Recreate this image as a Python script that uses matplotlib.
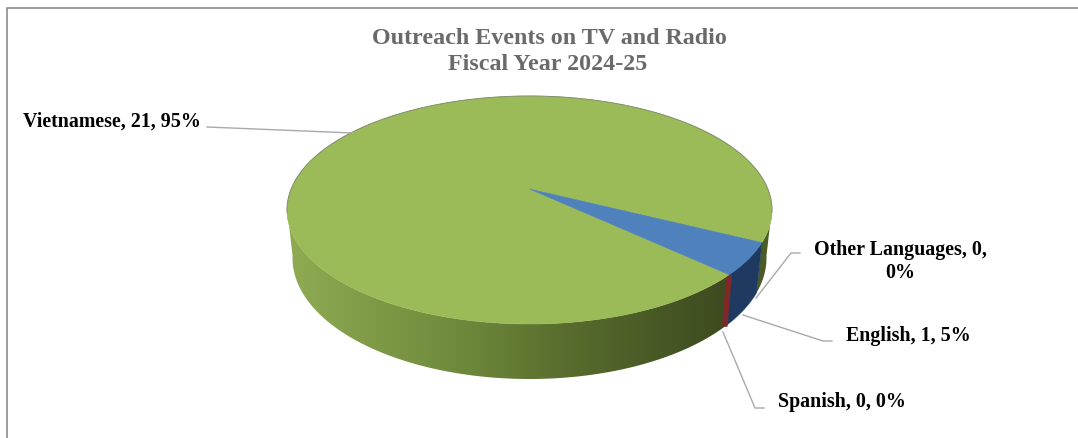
import numpy as np
import matplotlib
matplotlib.use("Agg")
import matplotlib.pyplot as plt
from matplotlib.patches import Polygon
from matplotlib.colors import LinearSegmentedColormap

TITLE_LINES = ["Outreach Events on TV and Radio", "Fiscal Year 2024-25"]
languages = ["Vietnamese", "Spanish", "English", "Other Languages"]
events = [21, 0, 1, 0]
top_colors = ["#9bbb59", "#c0504d", "#4f81bd", "#8064a2"]
wall_colors = [None, "#7b2a28", "#1f3a60", "#3f3151"]

plt.rcParams["font.family"] = ["Liberation Serif", "DejaVu Serif"]

W, H = 1078, 438
fig = plt.figure(figsize=(W / 100, H / 100), dpi=100)
ax = fig.add_axes([0, 0, 1, 1])
ax.axis("off")

# Chart border: only the left and top edges fall inside the frame
ax.plot([7, 7, 1078], [438, 7.5, 7.5], color="#8c8c8c", lw=1.2, zorder=1)

# Pie geometry: upper and lower rims, tilted with a slight perspective
CX = 529.5
TOP = dict(cy=210.0, rx=242.5, ry=114.0)
BOT = dict(cy=258.0, rx=237.0, ry=121.0)
K = 0.184
START = -26.5


def screen_angle(theta):
    """Projected rim angle for a true pie angle, in radians."""
    c, s = np.cos(theta), np.sin(theta)
    d = 1 + K * s
    return np.arctan2((s + K) / d, c * np.sqrt(1 - K * K) / d)


def rim(phi, e):
    return np.column_stack([CX + e["rx"] * np.cos(phi), e["cy"] - e["ry"] * np.sin(phi)])


# Slice extents, running counter-clockwise from the start angle
total = sum(events)
edges = np.radians(START + np.concatenate([[0], np.cumsum(events)]) / total * 360)
edges_screen = screen_angle(edges)
for j in range(1, len(edges_screen)):
    while edges_screen[j] < edges_screen[j - 1] - 1e-9:
        edges_screen[j] += 2 * np.pi
apex = (CX, TOP["cy"] - TOP["ry"] * K)

# Shading of the front wall, dark towards the right
wall_cmap = LinearSegmentedColormap.from_list(
    "wall", [(0.0, "#8fab52"), (0.35, "#6f8a3c"), (0.6, "#566a2c"),
             (0.9, "#3e4b20"), (1.0, "#4e5f28")])
shade = np.linspace(0, 1, 512).reshape(1, -1)


def wall_outline(phi_a, phi_b):
    """Closed outline of the part of a wall that faces the viewer."""
    phi = np.linspace(phi_a, phi_b, 720)
    phi = phi[np.sin(phi) <= 0.02]
    runs = np.split(phi, np.where(np.diff(phi) > 0.1)[0] + 1)
    return [np.vstack([rim(r, TOP), rim(r[::-1], BOT)]) for r in runs if len(r) > 1]


def draw_wall(phi_a, phi_b, color=None, z=2):
    for pts in wall_outline(phi_a, phi_b):
        if color is None:
            clip = Polygon(pts, closed=True, transform=ax.transData)
            im = ax.imshow(shade, cmap=wall_cmap, aspect="auto", zorder=z,
                           vmin=0, vmax=1, interpolation="bilinear",
                           extent=(CX - TOP["rx"], CX + TOP["rx"], H, 0))
            im.set_clip_path(clip)
        else:
            ax.add_patch(Polygon(pts, closed=True, fc=color, ec=color, lw=0.4, zorder=z))


# Front walls of the non-empty slices
for i, v in enumerate(events):
    if v > 0:
        draw_wall(edges_screen[i], edges_screen[i + 1], wall_colors[i], z=2)

# A zero-valued slice only shows as a thin seam on the wall
for i, v in enumerate(events):
    if v == 0 and languages[i] == "Spanish":
        p = edges_screen[i]
        seam = np.vstack([rim(np.array([p]), TOP), rim(np.array([p]), BOT)])
        ax.plot(seam[:, 0], seam[:, 1], color=wall_colors[i], lw=4.0,
                solid_capstyle="butt", zorder=3)

# Top faces
for i, v in enumerate(events):
    if v > 0:
        phi = np.linspace(edges_screen[i], edges_screen[i + 1], 400)
        pts = np.vstack([[apex], rim(phi, TOP)])
        ax.add_patch(Polygon(pts, closed=True, fc=top_colors[i], ec=top_colors[i],
                             lw=0.4, zorder=4))

# Thin outline on the back of the upper rim
phi = np.linspace(-0.02, np.pi + 0.02, 360)
ax.plot(*rim(phi, TOP).T, color="#858f72", lw=0.7, zorder=5)

# Title
ax.text(549, 39, TITLE_LINES[0], ha="center", va="center", fontsize=17.3,
        fontweight="bold", color="#6a6a6a", zorder=6)
ax.text(548, 65, TITLE_LINES[1], ha="center", va="center", fontsize=17.3,
        fontweight="bold", color="#6a6a6a", zorder=6)


def label(name):
    i = languages.index(name)
    return f"{name}, {events[i]}, {round(events[i] / total * 100)}%"


# Data labels
LABEL_STYLE = dict(fontsize=14.4, fontweight="bold", color="black", zorder=6)
ax.text(23, 122, label("Vietnamese"), ha="left", va="center", **LABEL_STYLE)
other_text = label("Other Languages").rsplit(" ", 1)
ax.text(900, 250, other_text[0], ha="center", va="center", **LABEL_STYLE)
ax.text(900, 273, other_text[1], ha="center", va="center", **LABEL_STYLE)
ax.text(846, 336, label("English"), ha="left", va="center", **LABEL_STYLE)
ax.text(778, 402, label("Spanish"), ha="left", va="center", **LABEL_STYLE)

# Leader lines
leaders = [
    ([207, 353], [127, 133]),
    ([800, 791, 756], [253, 253, 298]),
    ([832, 823, 743], [341, 341, 315]),
    ([764, 755, 723], [408, 408, 332]),
]
for xs, ys in leaders:
    ax.plot(xs, ys, color="#a9a9a9", lw=1.0, zorder=6)

ax.set_xlim(0, W)
ax.set_ylim(H, 0)
fig.savefig("out.png", dpi=100)
